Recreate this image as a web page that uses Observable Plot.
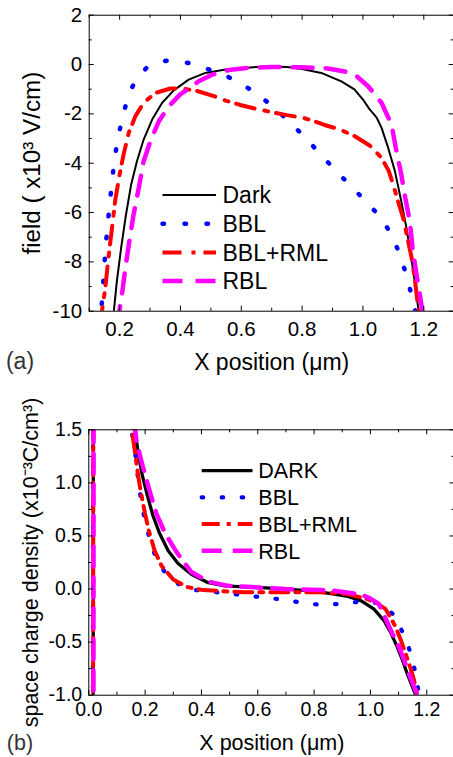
<!DOCTYPE html>
<html><head><meta charset="utf-8">
<script src="https://cdn.jsdelivr.net/npm/d3@7"></script>
<script src="https://cdn.jsdelivr.net/npm/@observablehq/plot@0.6"></script>
<style>
body{margin:0;background:#fff;}
#wrap{position:relative;width:453px;height:757px;overflow:hidden;background:#fff;font-family:"Liberation Sans",Arial,sans-serif;}
#wrap svg{position:absolute;left:0;}
</style></head><body><div id="wrap"></div>
<script>
// ---------- Panel (a): field ----------
const aDarkX = [0.175,0.181,0.191,0.205,0.221,0.238,0.257,0.279,0.307,0.34,0.378,0.427,0.482,0.548,0.6,0.65,0.7,0.75,0.8,0.863,0.929,0.972,1.0,1.022,1.035,1.045,1.061,1.083,1.105,1.126,1.143,1.157,1.17,1.183,1.19];
const aDarkY = [-10.8,-10,-8.78,-7.43,-6.08,-4.86,-3.92,-3.04,-2.23,-1.55,-1.05,-0.61,-0.34,-0.2,-0.15,-0.1,-0.08,-0.1,-0.18,-0.34,-0.68,-1.01,-1.42,-1.82,-2.0,-2.15,-2.56,-3.38,-4.32,-5.54,-6.62,-7.7,-8.78,-10,-10.8];
const aBBLX = [0.135,0.14,0.145,0.149,0.154,0.16,0.166,0.173,0.18,0.19,0.203,0.219,0.242,0.265,0.291,0.325,0.357,0.39,0.424,0.489,0.558,0.623,0.687,0.755,0.819,0.879,0.942,1.006,1.062,1.1,1.126,1.146,1.163,1.172,1.178];
const aBBLY = [-10.6,-9.9,-9.1,-8.3,-7.4,-6.6,-5.8,-5.0,-4.2,-3.3,-2.5,-1.7,-0.9,-0.45,-0.1,0.08,0.16,0.14,0.07,-0.18,-0.51,-0.96,-1.53,-2.27,-3.08,-3.89,-4.7,-5.5,-6.24,-7.05,-7.86,-8.69,-9.5,-10,-10.5];
const aRMLX = [0.138,0.142,0.153,0.162,0.175,0.186,0.2,0.213,0.23,0.252,0.279,0.318,0.367,0.4,0.449,0.51,0.548,0.6,0.65,0.7,0.75,0.8,0.841,0.874,0.923,0.972,1.022,1.061,1.085,1.1,1.115,1.132,1.146,1.16,1.17,1.179,1.183,1.186];
const aRMLY = [-10.6,-10,-9.05,-7.97,-6.62,-5.47,-4.46,-3.65,-2.77,-2.09,-1.55,-1.15,-0.97,-0.97,-1.05,-1.28,-1.46,-1.65,-1.8,-1.93,-2.05,-2.15,-2.3,-2.45,-2.63,-2.9,-3.28,-3.78,-4.32,-4.89,-5.54,-6.21,-7.02,-7.83,-8.64,-9.59,-10,-10.5];
const aRBLX = [0.195,0.199,0.208,0.219,0.232,0.246,0.263,0.279,0.301,0.329,0.362,0.4,0.427,0.46,0.504,0.559,0.62,0.7,0.797,0.885,0.94,0.979,1.017,1.061,1.094,1.108,1.126,1.139,1.154,1.163,1.176,1.187,1.195,1.2];
const aRBLY = [-10.6,-10,-9.3,-8.24,-7.16,-6.08,-5.0,-3.92,-3.11,-2.3,-1.69,-1.2,-0.98,-0.68,-0.41,-0.22,-0.14,-0.1,-0.11,-0.16,-0.28,-0.47,-0.88,-1.55,-2.43,-3.38,-4.46,-5.4,-6.35,-7.43,-8.51,-9.32,-10,-10.5];
const aXTicks = [0.2,0.4,0.6,0.8,1.0,1.2];
const aXMinor = [0.1,0.3,0.5,0.7,0.9,1.1,1.3];
const aYTicks = [-10,-8,-6,-4,-2,0,2];
const aYMinor = [-9,-7,-5,-3,-1,1];
const aLegend = ["Dark","BBL","BBL+RML","RBL"];

// ---------- Panel (b): space charge density ----------
const bDarkX = [0.015,0.017,0.1,0.15,0.163,0.175,0.19,0.208,0.228,0.252,0.282,0.317,0.364,0.424,0.483,0.55,0.6,0.7,0.8,0.871,0.92,0.966,1.013,1.049,1.072,1.096,1.114,1.131,1.149,1.161,1.17];
const bDarkY = [-3,6,4,1.9,1.51,1.29,1.07,0.88,0.69,0.52,0.36,0.24,0.14,0.06,0.03,0.02,0.015,0.0,-0.02,-0.047,-0.07,-0.11,-0.19,-0.3,-0.41,-0.55,-0.67,-0.8,-0.92,-1.0,-1.08];
const bBBLX = [0.014,0.016,0.1,0.14,0.151,0.163,0.169,0.178,0.187,0.201,0.217,0.24,0.282,0.347,0.418,0.489,0.556,0.624,0.692,0.758,0.825,0.891,0.959,1.028,1.06,1.088,1.12,1.144,1.159,1.17,1.178];
const bBBLY = [-3,6,4,1.8,1.49,1.34,1.16,0.99,0.8,0.63,0.46,0.28,0.11,0.0,-0.02,-0.04,-0.06,-0.08,-0.1,-0.13,-0.15,-0.14,-0.12,-0.13,-0.18,-0.26,-0.44,-0.61,-0.78,-0.95,-1.05];
const bRMLX = [0.015,0.017,0.1,0.145,0.157,0.167,0.175,0.185,0.199,0.213,0.234,0.258,0.3,0.347,0.406,0.471,0.55,0.633,0.72,0.824,0.918,0.983,1.019,1.054,1.072,1.09,1.108,1.125,1.143,1.155,1.164,1.17];
const bRMLY = [-3,6,4,1.8,1.42,1.23,1.07,0.91,0.72,0.55,0.36,0.22,0.09,0.02,-0.01,-0.02,-0.03,-0.03,-0.03,-0.03,-0.047,-0.09,-0.125,-0.19,-0.27,-0.36,-0.48,-0.61,-0.75,-0.86,-0.97,-1.05];
const bRBLX = [0.016,0.018,0.1,0.155,0.169,0.187,0.211,0.24,0.27,0.311,0.364,0.424,0.495,0.6,0.7,0.824,0.871,0.966,1.0,1.03,1.054,1.078,1.102,1.12,1.137,1.155,1.164,1.17];
const bRBLY = [-3,6,4,1.75,1.4,1.2,0.97,0.71,0.53,0.35,0.16,0.07,0.03,0.015,0.0,-0.01,-0.016,-0.05,-0.09,-0.14,-0.28,-0.42,-0.55,-0.67,-0.8,-0.92,-0.98,-1.05];
const bXTicks = [0.0,0.2,0.4,0.6,0.8,1.0,1.2];
const bXMinor = [0.1,0.3,0.5,0.7,0.9,1.1,1.3];
const bYTicks = [-1.0,-0.5,0.0,0.5,1.0,1.5];
const bYMinor = [-0.75,-0.25,0.25,0.75,1.25];
const bLegend = ["DARK","BBL","BBL+RML","RBL"];

const colors = ["#000000","#0000ff","#ff0000","#ff00ff"];
const FONT = "'Liberation Sans', Arial, sans-serif";

function zip(xs, ys){ return xs.map((x,i)=>({x, y: ys[i]})); }

function makePanel(cfg){
  const plotW = cfg.width - cfg.ml - cfg.mr;
  const plotH = cfg.height - cfg.mt - cfg.mb;
  const marks = [];
  cfg.series.forEach((s,i)=>{
    marks.push(Plot.line(zip(s[0], s[1]), {x:"x", y:"y", ...cfg.styles[i], strokeLinejoin:"round", clip:true}));
  });
  marks.push(Plot.frame({stroke:"#000", strokeWidth:1}));
  const tk = {stroke:"#000", strokeWidth:1};
  marks.push(Plot.tickX(cfg.xMajor, {x:d=>d, insetTop: plotH-5, ...tk}));
  marks.push(Plot.tickX(cfg.xMajor, {x:d=>d, insetBottom: plotH-5, ...tk}));
  marks.push(Plot.tickX(cfg.xMinor, {x:d=>d, insetTop: plotH-3, ...tk}));
  marks.push(Plot.tickX(cfg.xMinor, {x:d=>d, insetBottom: plotH-3, ...tk}));
  marks.push(Plot.tickY(cfg.yMajor, {y:d=>d, insetRight: plotW-5, ...tk}));
  marks.push(Plot.tickY(cfg.yMajor, {y:d=>d, insetLeft: plotW-5, ...tk}));
  marks.push(Plot.tickY(cfg.yMinor, {y:d=>d, insetRight: plotW-3, ...tk}));
  marks.push(Plot.tickY(cfg.yMinor, {y:d=>d, insetLeft: plotW-3, ...tk}));
  marks.push(Plot.axisX({ticks: cfg.xMajor, tickSize:0, tickPadding: cfg.xPad, tickFormat: cfg.fx, fontSize: cfg.tickFont, label:null}));
  marks.push(Plot.axisY({ticks: cfg.yMajor, tickSize:0, tickPadding: cfg.yPad, tickFormat: cfg.fy, fontSize: cfg.tickFont, label:null}));
  marks.push(Plot.text([cfg.xLabel], {text:d=>d, frameAnchor:"bottom", textAnchor:"middle", lineAnchor:"middle", dy: cfg.xLabelDy, fontSize: cfg.labelFont, fill:"#000"}));
  marks.push(Plot.text([cfg.yLabel], {text:d=>d, frameAnchor:"left", textAnchor:"middle", lineAnchor:"middle", dx: cfg.yLabelDx, rotate:-90, fontSize: cfg.yLabelFont, fill:"#000"}));
  marks.push(Plot.text([cfg.tag], {text:d=>d, frameAnchor:"bottom-left", textAnchor:"middle", lineAnchor:"middle", dx: cfg.tagDx, dy: cfg.tagDy, fontSize: cfg.labelFont, fill:"#333"}));
  const svg = Plot.plot({
    width: cfg.width, height: cfg.height,
    marginTop: cfg.mt, marginBottom: cfg.mb, marginLeft: cfg.ml, marginRight: cfg.mr,
    x: {type:"linear", domain: cfg.xDomain},
    y: {type:"linear", domain: cfg.yDomain},
    style: {fontFamily: FONT, fontSize: cfg.tickFont + "px", color:"#000", background:"transparent", overflow:"hidden"},
    marks
  });
  // legend
  const g = d3.select(svg).append("g");
  cfg.legend.forEach((name,i)=>{
    const y = cfg.lgY + i*cfg.lgDy;
    const st = cfg.lgStyles[i];
    g.append("line").attr("x1", cfg.lgX1).attr("x2", cfg.lgX2).attr("y1", y).attr("y2", y)
      .attr("stroke", st.stroke).attr("stroke-width", st.strokeWidth)
      .attr("stroke-dasharray", st.strokeDasharray || null)
      .attr("stroke-linecap", st.strokeLinecap || "butt");
    g.append("text").attr("x", cfg.lgTx).attr("y", y).attr("dy","0.36em")
      .attr("text-anchor","start")
      .style("font-size", cfg.lgFont + "px").attr("fill","#000").text(name);
  });
  return svg;
}

const stylesA = [
  {stroke: colors[0], strokeWidth: 2},
  {stroke: colors[1], strokeWidth: 4.5, strokeDasharray:"1.5,20.5", strokeLinecap:"round"},
  {stroke: colors[2], strokeWidth: 4, strokeDasharray:"19,10,4,8"},
  {stroke: colors[3], strokeWidth: 4.5, strokeDasharray:"20,13"}
];
const stylesB = [
  {stroke: colors[0], strokeWidth: 3.3},
  {stroke: colors[1], strokeWidth: 4.2, strokeDasharray:"1.5,18.5", strokeLinecap:"round"},
  {stroke: colors[2], strokeWidth: 4, strokeDasharray:"18,7,4,7"},
  {stroke: colors[3], strokeWidth: 4.5, strokeDasharray:"20,11"}
];

const fInt = d => String(d);
const f1 = d => d.toFixed(1);

const svgA = makePanel({
  width: 453, height: 380, mt: 14.7, mb: 69.3, ml: 88.7, mr: -0.7,
  xDomain: [0.1, 1.3], yDomain: [-10, 2],
  series: [[aDarkX,aDarkY],[aBBLX,aBBLY],[aRMLX,aRMLY],[aRBLX,aRBLY]],
  styles: stylesA, lgStyles: stylesA,
  xMajor: aXTicks, xMinor: aXMinor, yMajor: aYTicks, yMinor: aYMinor,
  fx: f1, fy: fInt, tickFont: 20.5, xPad: 10, yPad: 7,
  xLabel: "X position (\u03bcm)", yLabel: "field ( x10\u00b3 V/cm)", tag: "(a)",
  labelFont: 23, yLabelFont: 24.2, xLabelDy: 51, yLabelDx: -56.5, tagDx: -69.2, tagDy: 50.3,
  legend: aLegend, lgX1: 162.5, lgX2: 216, lgTx: 222.5, lgY: 195, lgDy: 28.7, lgFont: 23
});
svgA.style.top = "0px";

const svgB = makePanel({
  width: 453, height: 377, mt: 49.3, mb: 62.3, ml: 88.3, mr: -1.4,
  xDomain: [0, 1.3], yDomain: [-1, 1.5],
  series: [[bDarkX,bDarkY],[bBBLX,bBBLY],[bRMLX,bRMLY],[bRBLX,bRBLY]],
  styles: stylesB, lgStyles: stylesB,
  xMajor: bXTicks, xMinor: bXMinor, yMajor: bYTicks, yMinor: bYMinor,
  fx: f1, fy: f1, tickFont: 19.5, xPad: 7, yPad: 6.6,
  xLabel: "X position (\u03bcm)", yLabel: "space charge density (x10\u207b\u00b3C/cm\u00b3)", tag: "(b)",
  labelFont: 21.5, yLabelFont: 21.5, xLabelDy: 48.3, yLabelDx: -58, tagDx: -68.8, tagDy: 48.3,
  legend: bLegend, lgX1: 201.7, lgX2: 252.5, lgTx: 258.3, lgY: 90.7, lgDy: 26.7, lgFont: 21.5
});
svgB.style.top = "380px";

const wrap = document.getElementById("wrap");
wrap.appendChild(svgA);
wrap.appendChild(svgB);
</script></body></html>
